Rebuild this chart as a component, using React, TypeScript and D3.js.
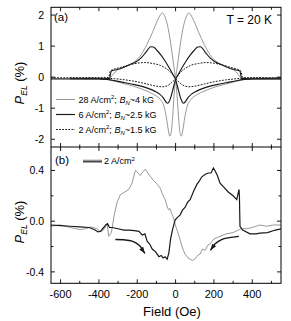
import React from 'react';
import * as d3 from 'd3';

// ---------- Panel (a) data: three current densities, two sweep directions ----------
const grayUpH = [-650,-500,-400,-345,-325,-300,-270,-240,-210,-180,-150,-120,-95,-80,-70,-50,-35,-20,-8,0,8,16,24,30,38,48,60,80,110,150,200,250,300,340,380,450,550];
const grayUpV = [-0.04,-0.05,-0.05,-0.04,0.1,0.25,0.32,0.4,0.52,0.72,1.05,1.45,1.82,2.0,2.07,1.85,1.45,0.85,0.3,-0.05,-0.6,-1.35,-1.82,-1.9,-1.7,-1.3,-0.95,-0.72,-0.57,-0.45,-0.33,-0.24,-0.16,-0.1,-0.06,-0.04,-0.03];
const grayDownH = [-550,-450,-380,-340,-300,-250,-200,-150,-110,-80,-60,-48,-38,-30,-24,-16,-8,0,8,20,35,50,70,80,95,120,150,180,210,240,270,300,325,345,400,500,650];
const grayDownV = [-0.03,-0.04,-0.06,-0.1,-0.16,-0.24,-0.33,-0.45,-0.57,-0.72,-0.95,-1.3,-1.7,-1.9,-1.82,-1.35,-0.6,-0.05,0.3,0.85,1.45,1.85,2.07,2.0,1.82,1.45,1.05,0.72,0.52,0.4,0.32,0.25,0.1,-0.04,-0.05,-0.05,-0.04];

const blackUpH = [-650,-500,-420,-370,-345,-335,-310,-285,-260,-240,-210,-180,-155,-130,-115,-95,-75,-55,-35,-15,0,12,25,35,42,50,65,85,110,140,180,230,280,330,355,400,480,550];
const blackUpV = [-0.06,-0.06,-0.05,-0.05,-0.04,0.2,0.24,0.28,0.34,0.4,0.48,0.62,0.8,0.98,0.97,0.85,0.7,0.52,0.32,0.1,-0.08,-0.35,-0.65,-0.8,-0.84,-0.8,-0.66,-0.54,-0.45,-0.37,-0.29,-0.22,-0.16,-0.1,-0.07,-0.06,-0.05,-0.05];
const blackDownH = [-550,-480,-400,-355,-330,-280,-230,-180,-140,-110,-85,-65,-50,-42,-35,-25,-12,0,15,35,55,75,95,115,130,155,180,210,240,260,285,310,335,345,370,420,500,650];
const blackDownV = [-0.05,-0.05,-0.06,-0.07,-0.1,-0.16,-0.22,-0.29,-0.37,-0.45,-0.54,-0.66,-0.8,-0.84,-0.8,-0.65,-0.35,-0.08,0.1,0.32,0.52,0.7,0.85,0.97,0.98,0.8,0.62,0.48,0.4,0.34,0.28,0.24,0.2,-0.04,-0.05,-0.05,-0.06,-0.06];

const dotUpH = [-650,-500,-400,-350,-340,-320,-290,-250,-200,-160,-120,-80,-50,-25,0,20,45,70,100,150,200,260,320,380,450,550];
const dotUpV = [-0.02,-0.02,-0.02,-0.01,0.2,0.26,0.31,0.38,0.45,0.47,0.44,0.38,0.28,0.15,-0.05,-0.17,-0.28,-0.31,-0.29,-0.22,-0.15,-0.09,-0.05,-0.03,-0.02,-0.02];
const dotDownH = [-550,-450,-380,-320,-260,-200,-150,-100,-70,-45,-20,0,25,50,80,120,160,200,250,290,320,340,350,400,500,650];
const dotDownV = [-0.02,-0.02,-0.03,-0.05,-0.09,-0.15,-0.22,-0.29,-0.31,-0.28,-0.17,-0.05,0.15,0.28,0.38,0.44,0.47,0.45,0.38,0.31,0.26,0.2,-0.01,-0.02,-0.02,-0.02];

// ---------- Panel (b) data: 2 A/cm2, two sweeps ----------
const bGrayH = [-650,-600,-550,-500,-470,-440,-410,-390,-370,-357,-349,-335,-320,-305,-288,-265,-245,-227,-210,-196,-184,-170,-158,-140,-115,-95,-80,-65,-54,-45,-37,-30,-20,-10,-2,10,24,38,50,65,76,88,100,115,128,140,154,168,180,200,232,265,301,340,371,400,440,475,510,550];
const bGrayV = [-0.04,-0.03,-0.05,-0.066,-0.06,-0.045,-0.06,-0.085,-0.06,-0.02,-0.12,-0.09,0.05,0.15,0.21,0.23,0.25,0.3,0.4,0.38,0.36,0.39,0.41,0.37,0.32,0.29,0.26,0.2,0.17,0.12,0.09,0.1,0.06,0.02,-0.03,-0.08,-0.15,-0.22,-0.26,-0.29,-0.3,-0.31,-0.3,-0.27,-0.26,-0.22,-0.23,-0.19,-0.18,-0.14,-0.12,-0.1,-0.09,-0.06,-0.06,-0.05,-0.03,-0.04,-0.03,-0.03];
const bBlackH = [-650,-600,-550,-500,-450,-420,-405,-392,-375,-365,-355,-345,-330,-300,-270,-243,-215,-191,-174,-160,-148,-135,-122,-105,-87,-75,-65,-55,-44,-35,-26,-15,-2,10,24,37,50,63,76,95,111,125,137,155,171,185,197,205,218,232,250,275,300,319,331,333,336,350,388,420,440,480,520,550];
const bBlackV = [-0.03,-0.035,-0.04,-0.045,-0.05,-0.07,-0.085,-0.08,-0.05,-0.03,-0.02,-0.05,-0.05,-0.06,-0.07,-0.07,-0.075,-0.08,-0.11,-0.1,-0.16,-0.18,-0.22,-0.24,-0.28,-0.27,-0.29,-0.28,-0.3,-0.25,-0.14,-0.06,0.01,0.03,0.05,0.09,0.11,0.15,0.17,0.24,0.29,0.32,0.35,0.37,0.38,0.38,0.42,0.4,0.36,0.3,0.27,0.23,0.2,0.17,0.25,0.2,-0.04,-0.07,-0.1,-0.1,-0.095,-0.09,-0.07,-0.06];

// sweep-direction arrows (field, value)
const arrowLeftH = [-314,-270,-227,-190,-160];
const arrowLeftV = [-0.145,-0.147,-0.157,-0.19,-0.255];
const arrowRightH = [330,280,240,205,182];
const arrowRightV = [-0.12,-0.13,-0.145,-0.18,-0.23];

// ticks
const xMajor = [-600,-400,-200,0,200,400];
const xMinor = [-500,-300,-100,100,300,500];
const yTopTicks = [2,1,0,-1,-2];
const yBotMajor = [0.4,0,-0.4];
const yBotMinor = [0.2,-0.2];
const yBotLabels = ['0.4','0.0','-0.4'];

const legendA = [
  { cur: '28 A/cm', bn: '~4 kG', kind: 'gray' },
  { cur: '6 A/cm', bn: '~2.5 kG', kind: 'black' },
  { cur: '2 A/cm', bn: '~1.5 kG', kind: 'dot' },
];

const L = 51, R = 281, T = 7.3, MID = 147, B = 283.3;
const FONT = 'Liberation Sans, Arial, Helvetica, sans-serif';
const GRAY = '#8c8c8c';
const BLACK = '#181818';

const zip = (h: number[], v: number[]) => h.map((x, i) => [x, v[i]] as [number, number]);

export default function App() {
  const x = d3.scaleLinear().domain([-650, 550]).range([L, R]);
  const yA = d3.scaleLinear().domain([-2.25, 2.25]).range([MID, T]);
  const yB = d3.scaleLinear().domain([-0.49, 0.585]).range([B, MID]);

  const lineA = d3.line<[number, number]>().x(d => x(d[0])).y(d => yA(d[1])).curve(d3.curveMonotoneX);
  const lineB = d3.line<[number, number]>().x(d => x(d[0])).y(d => yB(d[1])).curve(d3.curveLinear);
  const arrowLine = d3.line<[number, number]>().x(d => x(d[0])).y(d => yB(d[1])).curve(d3.curveCatmullRom);

  const styleOf = (k: string) =>
    k === 'gray' ? { stroke: GRAY, strokeWidth: 0.9 } :
    k === 'black' ? { stroke: BLACK, strokeWidth: 1.15 } :
    { stroke: BLACK, strokeWidth: 1.0, strokeDasharray: '1.8,1.3' };

  const arrowHead = (hs: number[], vs: number[]) => {
    const n = hs.length;
    const x1 = x(hs[n - 1]), y1 = yB(vs[n - 1]);
    const x0 = x(hs[n - 2]), y0 = yB(vs[n - 2]);
    const ang = Math.atan2(y1 - y0, x1 - x0);
    const len = 6.5, wid = 2.4;
    const bx = x1 - len * Math.cos(ang), by = y1 - len * Math.sin(ang);
    const px = -Math.sin(ang) * wid, py = Math.cos(ang) * wid;
    return `M${x1},${y1}L${bx + px},${by + py}L${bx - px},${by - py}Z`;
  };

  const xTicks = (y: number, dir: number[]) => (
    <g>
      {xMajor.map(t => dir.map((d, j) => <line key={`M${t}${j}`} x1={x(t)} x2={x(t)} y1={y} y2={y + d * 4} stroke="#000" strokeWidth={0.9} />))}
      {xMinor.map(t => dir.map((d, j) => <line key={`m${t}${j}`} x1={x(t)} x2={x(t)} y1={y} y2={y + d * 2.5} stroke="#000" strokeWidth={0.9} />))}
    </g>
  );

  return (
    <svg width={291} height={321} style={{ position: 'absolute', left: 0, top: 0, background: '#fff' }} fontFamily={FONT}>
      <defs>
        <clipPath id="clipA"><rect x={L} y={T} width={R - L} height={MID - T} /></clipPath>
        <clipPath id="clipB"><rect x={L} y={MID} width={R - L} height={B - MID} /></clipPath>
      </defs>

      {/* Panel a curves */}
      <g clipPath="url(#clipA)" fill="none">
        <path d={lineA(zip(dotUpH, dotUpV)) || ''} {...styleOf('dot')} />
        <path d={lineA(zip(dotDownH, dotDownV)) || ''} {...styleOf('dot')} />
        <path d={lineA(zip(grayUpH, grayUpV)) || ''} {...styleOf('gray')} />
        <path d={lineA(zip(grayDownH, grayDownV)) || ''} {...styleOf('gray')} />
        <path d={lineA(zip(blackUpH, blackUpV)) || ''} {...styleOf('black')} />
        <path d={lineA(zip(blackDownH, blackDownV)) || ''} {...styleOf('black')} />
      </g>

      {/* Panel b curves */}
      <g clipPath="url(#clipB)" fill="none">
        <path d={lineB(zip(bGrayH, bGrayV)) || ''} stroke={GRAY} strokeWidth={0.9} />
        <path d={lineB(zip(bBlackH, bBlackV)) || ''} stroke={BLACK} strokeWidth={1.2} />
        <path d={arrowLine(zip(arrowLeftH, arrowLeftV)) || ''} stroke={BLACK} strokeWidth={1.4} />
        <path d={arrowLine(zip(arrowRightH, arrowRightV)) || ''} stroke={BLACK} strokeWidth={1.4} />
      </g>
      <path d={arrowHead(arrowLeftH, arrowLeftV)} fill={BLACK} />
      <path d={arrowHead(arrowRightH, arrowRightV)} fill={BLACK} />

      {/* frames */}
      <rect x={L} y={T} width={R - L} height={B - T} fill="none" stroke="#000" strokeWidth={1} />
      <line x1={L} x2={R} y1={MID} y2={MID} stroke="#000" strokeWidth={1} />

      {/* x ticks */}
      {xTicks(T, [1])}
      {xTicks(MID, [-1, 1])}
      {xTicks(B, [-1])}

      {/* y ticks panel a */}
      {yTopTicks.map(t => (
        <g key={`ya${t}`}>
          <line x1={L} x2={L + 4} y1={yA(t)} y2={yA(t)} stroke="#000" strokeWidth={0.9} />
          <line x1={R} x2={R - 4} y1={yA(t)} y2={yA(t)} stroke="#000" strokeWidth={0.9} />
          <text x={L - 7} y={yA(t) + 3.8} fontSize={10.5} textAnchor="end">{String(t)}</text>
        </g>
      ))}
      {/* y ticks panel b */}
      {yBotMajor.map((t, i) => (
        <g key={`yb${t}`}>
          <line x1={L} x2={L + 4} y1={yB(t)} y2={yB(t)} stroke="#000" strokeWidth={0.9} />
          <line x1={R} x2={R - 4} y1={yB(t)} y2={yB(t)} stroke="#000" strokeWidth={0.9} />
          <text x={L - 7} y={yB(t) + 3.8} fontSize={10.5} textAnchor="end">{yBotLabels[i]}</text>
        </g>
      ))}
      {yBotMinor.map(t => (
        <g key={`ybm${t}`}>
          <line x1={L} x2={L + 2.5} y1={yB(t)} y2={yB(t)} stroke="#000" strokeWidth={0.9} />
          <line x1={R} x2={R - 2.5} y1={yB(t)} y2={yB(t)} stroke="#000" strokeWidth={0.9} />
        </g>
      ))}

      {/* x tick labels */}
      {xMajor.map(t => (
        <text key={`xl${t}`} x={x(t)} y={298} fontSize={11} textAnchor="middle">{String(t)}</text>
      ))}
      <text x={172} y={316} fontSize={13} textAnchor="middle">Field (Oe)</text>

      {/* y titles */}
      {[83, 222].map(cy => (
        <text key={`yt${cy}`} transform={`translate(24,${cy}) rotate(-90)`} fontSize={13} textAnchor="middle">
          <tspan fontStyle="italic">P</tspan>
          <tspan fontSize={8.5} fontStyle="italic" dy={3}>EL</tspan>
          <tspan dy={-3}> (%)</tspan>
        </text>
      ))}

      {/* panel labels */}
      <text x={54} y={21} fontSize={11.5}>(a)</text>
      <text x={272} y={23.5} fontSize={12} textAnchor="end">T = 20 K</text>
      <text x={55} y={164} fontSize={11.5}>(b)</text>

      {/* legend a */}
      {legendA.map((d, i) => {
        const ly = 99.5 + i * 15;
        return (
          <g key={`lg${i}`}>
            <line x1={56} x2={75} y1={ly} y2={ly} {...styleOf(d.kind)} />
            <text x={78.5} y={ly + 3.2} fontSize={9}>
              {d.cur}
              <tspan fontSize={6} dy={-3.5}>2</tspan>
              <tspan dy={3.5}>; </tspan>
              <tspan fontStyle="italic">B</tspan>
              <tspan fontSize={6} fontStyle="italic" dy={2}>N</tspan>
              <tspan dy={-2}>{d.bn}</tspan>
            </text>
          </g>
        );
      })}

      {/* legend b */}
      <line x1={83} x2={102} y1={160.3} y2={160.3} stroke={GRAY} strokeWidth={1.2} />
      <line x1={83} x2={102} y1={161.8} y2={161.8} stroke={BLACK} strokeWidth={1.2} />
      <text x={104} y={164} fontSize={9}>
        2 A/cm<tspan fontSize={6} dy={-3.5}>2</tspan>
      </text>
    </svg>
  );
}
